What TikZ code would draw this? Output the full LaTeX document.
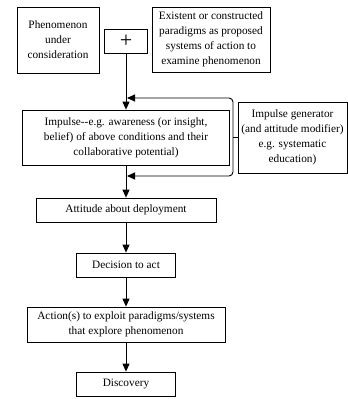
\documentclass[tikz,border=0pt]{standalone}
\usepackage{fontspec}
\setmainfont{Liberation Serif}
\usetikzlibrary{arrows.meta,positioning}

\tikzset{
  stepbox/.style={draw,line width=0.8pt,align=center,inner sep=2pt,
    font=\fontsize{11.3}{15}\selectfont},
  flow/.style={line width=0.9pt,-{Triangle[length=8pt,width=7pt]}},
  feed/.style={line width=0.9pt,rounded corners=4pt,-{Triangle[length=8pt,width=7pt]}}
}

\begin{document}
\begin{tikzpicture}[x=1pt,y=-1pt]
    \useasboundingbox (0,0) rectangle (348,399);
    % top row
    \node[stepbox,minimum width=82pt,minimum height=66pt] (phen) at (58,40)
      {Phenomenon\\under\\consideration};
    \node[stepbox,minimum width=43pt,minimum height=24pt,inner sep=0pt,
      font=\fontsize{22}{22}\selectfont] (plus) at (126,41) {+};
    \node[stepbox,minimum width=118pt,minimum height=65pt] (exist) at (211,39.5)
      {Existent or constructed\\paradigms as proposed\\systems of action to\\examine phenomenon};
    % main chain
    \node[stepbox,minimum width=207pt,minimum height=55pt] (imp) at (126,137.5)
      {Impulse-{}-e.g. awareness (or insight,\\belief) of above conditions and their\\collaborative potential)};
    \node[stepbox,minimum width=109pt,minimum height=71pt] (gen) at (292.5,137.5)
      {Impulse generator\\(and attitude modifier)\\e.g. systematic\\education)};
    \node[stepbox,minimum width=180pt,minimum height=24pt] (att) at (126,210)
      {Attitude about deployment};
    \node[stepbox,minimum width=99pt,minimum height=24pt] (dec) at (126,265)
      {Decision to act};
    \node[stepbox,minimum width=198pt,minimum height=35pt] (act) at (126,324.5)
      {Action(s) to exploit paradigms/systems\\that explore phenomenon};
    \node[stepbox,minimum width=99pt,minimum height=24pt] (disc) at (126,384)
      {Discovery};
    % arrows
    \draw[flow] (plus) -- (imp);
    \draw[flow] (imp) -- (att);
    \draw[flow] (att) -- (dec);
    \draw[flow] (dec) -- (act);
    \draw[flow] (act) -- (disc);
    % feedback from generator
    \coordinate (fb) at (233,137.5);
    \coordinate (fbtop) at (127,98);
    \coordinate (fbbot) at (127,176);
    \draw[line width=0.8pt] (gen.west) -- (fb);
    \draw[feed] (fb) |- (fbtop);
    \draw[feed] (fb) |- (fbbot);
\end{tikzpicture}
\end{document}
